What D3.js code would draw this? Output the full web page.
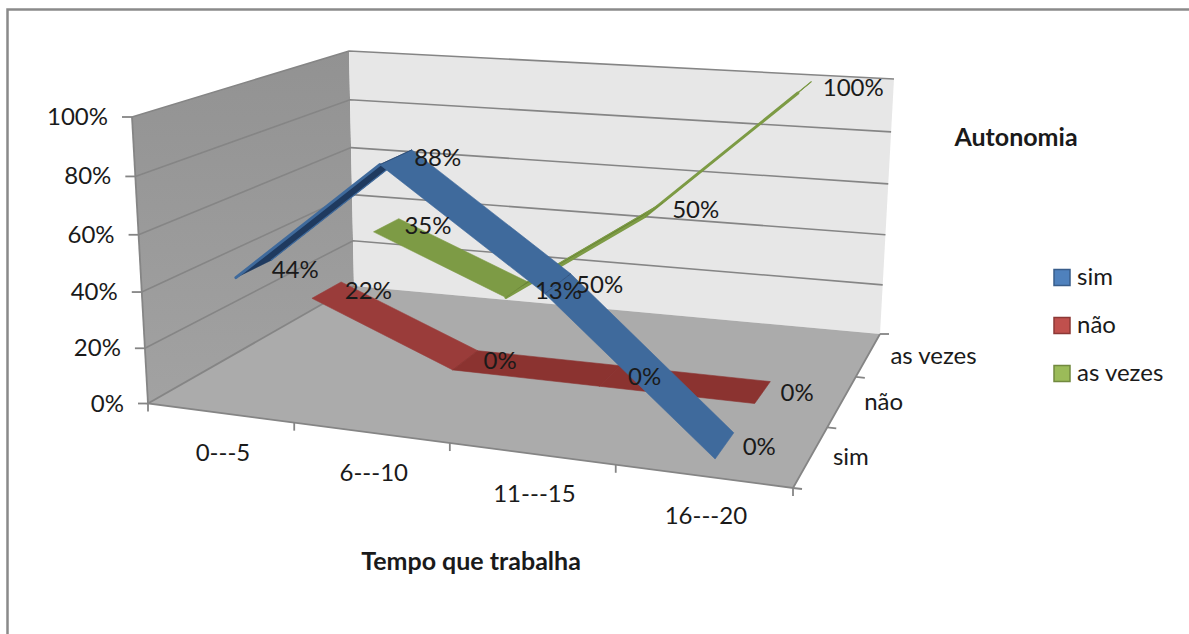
<!DOCTYPE html>
<html><head><meta charset="utf-8">
<script src="https://cdn.jsdelivr.net/npm/d3@7"></script>
<style>html,body{margin:0;padding:0;background:#fff}svg{display:block}text{font-family:Lato,"Open Sans",sans-serif;fill:#1a1a1a}</style>
</head><body><div id="c"></div>
<script>
const categories = ["0---5","6---10","11---15","16---20"];
const depthLabels = ["sim","não","as vezes"];
const valueTicks = [0,0.2,0.4,0.6,0.8,1];
const simValues = [0.44,0.88,0.50,0];
const naoValues = [0.22,0,0,0];
const asVezesValues = [0.35,0.13,0.50,1];
const seriesNames = ["sim","não","as vezes"];
const seriesColors = ["#3F6A9C","#9A3C3A","#7D9B45"];
const seriesUnder = ["#1F3A5F","#8B3330","#668233"];
const legendFill = ["#4F81BD","#C0504D","#9BBB59"];
const legendStroke = ["#385D8A","#8C3836","#71893F"];
const allValues = [simValues,naoValues,asVezesValues];

const W=1189,H=634;
const svg=d3.select("#c").append("svg").attr("width",W).attr("height",H);
svg.append("path").attr("d","M7.500,634V9.500H1189").attr("fill","none").attr("stroke","#8a8a8a").attr("stroke-width",2.5);

// four-corner perspective map of the unit square
function quad(p00,p10,p11,p01){
  const dx1=p10[0]-p11[0],dx2=p01[0]-p11[0],sx=p00[0]-p10[0]+p11[0]-p01[0];
  const dy1=p10[1]-p11[1],dy2=p01[1]-p11[1],sy=p00[1]-p10[1]+p11[1]-p01[1];
  const d=dx1*dy2-dx2*dy1;
  const g=(sx*dy2-dx2*sy)/d,h=(dx1*sy-sx*dy1)/d;
  const a=p10[0]-p00[0]+g*p10[0],b=p01[0]-p00[0]+h*p01[0],c=p00[0];
  const e=p10[1]-p00[1]+g*p10[1],f=p01[1]-p00[1]+h*p01[1],k=p00[1];
  return (u,v)=>{const w=g*u+h*v+1;return [(a*u+b*v+c)/w,(e*u+f*v+k)/w];};
}
const floorMap=quad([148,403.500],[793,488],[880,334],[354,286]);
const topMap=quad([132,117],[806,178],[894,79],[349,51]);
const bend=-0.045;
const xS=d3.scaleBand().domain(categories).range([0,1]);
const zS=d3.scaleBand().domain(depthLabels).range([0,1]);
const yS=d3.scaleLinear().domain([0,1]).range([0,1]);
function P(x,v,z){
  const t=yS(v),tt=t*(1+bend)/(1+bend*t);
  const e=0.045+0.075*t,xw=x*(1+e)/(1+e*x);
  const f=floorMap(xw,z),u=topMap(xw,z);
  return [f[0]+(u[0]-f[0])*tt,f[1]+(u[1]-f[1])*tt];
}
const line=d3.line();
const poly=pts=>line(pts)+"Z";

// walls
const defs=svg.append("defs");
const g=defs.append("linearGradient").attr("id","lw").attr("x1",0).attr("x2",0).attr("y1",0).attr("y2",1);
g.append("stop").attr("offset",0).attr("stop-color","#929292");
g.append("stop").attr("offset",1).attr("stop-color","#a2a2a2");
svg.append("path").attr("d",poly([P(0,0,0),P(0,1,0),P(0,1,1),P(0,0,1)])).attr("fill","url(#lw)");
svg.append("path").attr("d",poly([P(0,0,1),P(0,1,1),P(1,1,1),P(1,0,1)])).attr("fill","#E7E7E7");
svg.append("path").attr("d",poly([P(0,0,0),P(1,0,0),P(1,0,1),P(0,0,1)])).attr("fill","#ABABAB");

const gridC="#858585";
valueTicks.slice(1).forEach(v=>{
  svg.append("path").attr("d",line([P(0,v,0),P(0,v,1),P(1,v,1)])).attr("fill","none").attr("stroke",gridC).attr("stroke-width",1.6);
});
// axes
const ax=svg.append("g").attr("fill","none").attr("stroke",gridC).attr("stroke-width",1.8);
ax.append("path").attr("d",line([P(0,0,1),P(0,0,0),P(1,0,0),P(1,0,1)]));
ax.append("path").attr("d",line([P(0,0,0),P(0,1,0)]));
const xEdges=d3.range(categories.length+1).map(i=>i/categories.length);
xEdges.forEach(x=>{const p=P(x,0,0);ax.append("path").attr("d",line([p,[p[0],p[1]+8]]));});
const zEdges=d3.range(depthLabels.length+1).map(i=>i/depthLabels.length);
zEdges.forEach(z=>{const p=P(1,0,z);ax.append("path").attr("d",line([p,[p[0]+9,p[1]+(z===1?0:1)]]));});
valueTicks.forEach(v=>{const p=P(0,v,0);ax.append("path").attr("d",line([p,[p[0]-10,p[1]]]));});

const fs=24;
valueTicks.forEach(v=>{const p=P(0,v,0);
  svg.append("text").attr("x",p[0]-24).attr("y",p[1]+8).attr("text-anchor","end").attr("font-size",fs).text(d3.format(".0%")(v));});
categories.forEach(c=>{const p=P(xS(c)+xS.bandwidth()/2,0,0);
  svg.append("text").attr("x",p[0]+3).attr("y",p[1]+48).attr("text-anchor","middle").attr("font-size",fs).text(c);});
depthLabels.forEach(c=>{const p=P(1,0,zS(c)+zS.bandwidth()/2);
  svg.append("text").attr("x",p[0]+22).attr("y",p[1]+9).attr("font-size",fs).text(c);});

// ribbons, back to front
const half=0.075;
const xc=categories.map(c=>xS(c)+xS.bandwidth()/2);
[2,1,0].forEach(s=>{
  const vals=allValues[s];
  const zc=zS(depthLabels[s])+zS.bandwidth()/2;
  for(let i=0;i<vals.length-1;i++){
    const a=P(xc[i],vals[i],zc-half),b=P(xc[i],vals[i],zc+half),c=P(xc[i+1],vals[i+1],zc+half),d=P(xc[i+1],vals[i+1],zc-half);
    const under=vals[i+1]>=vals[i];
    const rising=vals[i+1]>vals[i];
    svg.append("path").attr("d",poly([a,b,c,d]))
      .attr("fill",under?seriesUnder[s]:seriesColors[s])
      .attr("stroke",under?seriesUnder[s]:seriesColors[s]).attr("stroke-width",0.6);
    if(rising){
      svg.append("path").attr("d",line([a,d])).attr("fill","none").attr("stroke",seriesColors[s]).attr("stroke-width",3).attr("stroke-linecap","round");
      svg.append("path").attr("d",line([b,c])).attr("fill","none").attr("stroke",seriesColors[s]).attr("stroke-width",1.2);
    }
    if(i>0){
      svg.append("path").attr("d",line([a,b])).attr("fill","none").attr("stroke",seriesUnder[s]).attr("stroke-opacity",0.5).attr("stroke-width",1);
    }
  }
});
// data labels above every ribbon
[2,1,0].forEach(s=>{
  const zc=zS(depthLabels[s])+zS.bandwidth()/2;
  allValues[s].forEach((v,i)=>{
    const p=P(xc[i],v,zc);
    svg.append("text").attr("x",p[0]+18).attr("y",p[1]+9).attr("font-size",fs).text(d3.format(".0%")(v));
  });
});

// titles
svg.append("text").attr("x",1016).attr("y",146).attr("text-anchor","middle").attr("font-size",25).attr("font-weight",700).text("Autonomia");
svg.append("text").attr("x",471).attr("y",570).attr("text-anchor","middle").attr("font-size",25).attr("font-weight",700).text("Tempo que trabalha");

// legend
const ly=d3.scalePoint().domain(seriesNames).range([277,373]);
seriesNames.forEach((n,i)=>{
  svg.append("rect").attr("x",1054).attr("y",ly(n)-7.500).attr("width",16).attr("height",16).attr("fill",legendFill[i]).attr("stroke",legendStroke[i]).attr("stroke-width",1.5);
  svg.append("text").attr("x",1077).attr("y",ly(n)+7.500).attr("font-size",fs).text(n);
});
</script></body></html>
